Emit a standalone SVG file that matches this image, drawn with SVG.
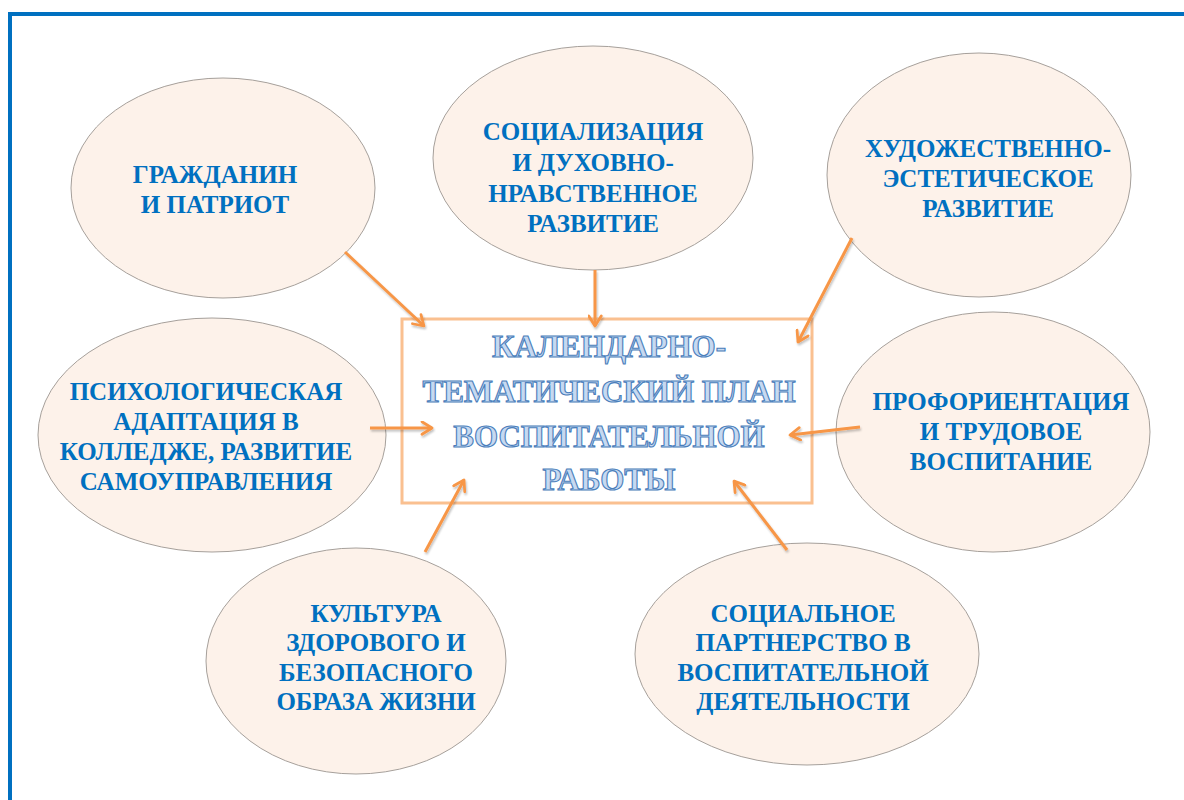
<svg xmlns="http://www.w3.org/2000/svg" width="1184" height="800" viewBox="0 0 1184 800">
<defs>
<marker id="arr" viewBox="0 0 12 12" refX="10" refY="6" markerWidth="5" markerHeight="5" orient="auto" markerUnits="strokeWidth">
<path d="M2,1 L10,6 L2,11" fill="none" stroke="#F79646" stroke-width="2.2" stroke-linecap="round" stroke-linejoin="round"/>
</marker>
<filter id="sh" x="-10%" y="-10%" width="120%" height="120%">
<feGaussianBlur in="SourceAlpha" stdDeviation="1.2"/>
<feOffset dx="1" dy="1.5" result="b"/>
<feComponentTransfer><feFuncA type="linear" slope="0.25"/></feComponentTransfer>
<feMerge><feMergeNode/><feMergeNode in="SourceGraphic"/></feMerge>
</filter>
</defs>
<style>
.ell{fill:#FDF2EA;stroke:#A6A09B;stroke-width:1}
.lbl{font-family:"Liberation Serif","Times New Roman","DejaVu Serif",serif;font-weight:bold;font-size:25px;fill:#0070C0;text-anchor:middle}
.title{font-family:"Liberation Serif","Times New Roman","DejaVu Serif",serif;font-weight:bold;font-size:31px;fill:#C6D9F1;stroke:#4A7EBB;stroke-width:1.1;text-anchor:middle}
.con{stroke:#F79646;stroke-width:3;fill:none;marker-end:url(#arr)}
</style>
<rect width="1184" height="800" fill="#FFFFFF"/>
<g id="frame">
<line x1="8" y1="14" x2="1184" y2="14" stroke="#0070C0" stroke-width="4"/>
<line x1="10" y1="12" x2="10" y2="800" stroke="#0070C0" stroke-width="4"/>
</g>
<g id="n-grazhdanin">
<ellipse class="ell" cx="223" cy="188" rx="152" ry="110"/>
<text class="lbl" x="215" y="183">ГРАЖДАНИН</text>
<text class="lbl" x="215" y="213">И ПАТРИОТ</text>
</g>
<g id="n-socializ">
<ellipse class="ell" cx="593" cy="158" rx="160" ry="112"/>
<text class="lbl" x="593" y="140">СОЦИАЛИЗАЦИЯ</text>
<text class="lbl" x="593" y="171">И ДУХОВНО-</text>
<text class="lbl" x="593" y="202">НРАВСТВЕННОЕ</text>
<text class="lbl" x="593" y="232">РАЗВИТИЕ</text>
</g>
<g id="n-hudozh">
<ellipse class="ell" cx="979" cy="175" rx="152" ry="122"/>
<text class="lbl" x="988" y="157">ХУДОЖЕСТВЕННО-</text>
<text class="lbl" x="988" y="187">ЭСТЕТИЧЕСКОЕ</text>
<text class="lbl" x="988" y="217">РАЗВИТИЕ</text>
</g>
<g id="n-psih">
<ellipse class="ell" cx="212" cy="435" rx="174" ry="117"/>
<text class="lbl" x="206" y="400">ПСИХОЛОГИЧЕСКАЯ</text>
<text class="lbl" x="206" y="430">АДАПТАЦИЯ В</text>
<text class="lbl" x="206" y="460">КОЛЛЕДЖЕ, РАЗВИТИЕ</text>
<text class="lbl" x="206" y="490">САМОУПРАВЛЕНИЯ</text>
</g>
<g id="n-proforient">
<ellipse class="ell" cx="993" cy="432" rx="157" ry="120"/>
<text class="lbl" x="1001" y="410">ПРОФОРИЕНТАЦИЯ</text>
<text class="lbl" x="1001" y="440">И ТРУДОВОЕ</text>
<text class="lbl" x="1001" y="470">ВОСПИТАНИЕ</text>
</g>
<g id="n-kultura">
<ellipse class="ell" cx="356" cy="661" rx="150" ry="113"/>
<text class="lbl" x="376" y="622">КУЛЬТУРА</text>
<text class="lbl" x="376" y="651">ЗДОРОВОГО И</text>
<text class="lbl" x="376" y="681">БЕЗОПАСНОГО</text>
<text class="lbl" x="376" y="710">ОБРАЗА ЖИЗНИ</text>
</g>
<g id="n-partner">
<ellipse class="ell" cx="807" cy="654" rx="172" ry="111"/>
<text class="lbl" x="803" y="622">СОЦИАЛЬНОЕ</text>
<text class="lbl" x="803" y="651">ПАРТНЕРСТВО В</text>
<text class="lbl" x="803" y="681">ВОСПИТАТЕЛЬНОЙ</text>
<text class="lbl" x="803" y="710">ДЕЯТЕЛЬНОСТИ</text>
</g>
<g id="n-center">
<rect x="402" y="319" width="410" height="184" fill="#FFFFFF" stroke="#FAC090" stroke-width="3"/>
<text class="title" x="609" y="357">КАЛЕНДАРНО-</text>
<text class="title" x="609" y="402">ТЕМАТИЧЕСКИЙ ПЛАН</text>
<text class="title" x="609" y="447">ВОСПИТАТЕЛЬНОЙ</text>
<text class="title" x="609" y="490">РАБОТЫ</text>
</g>
<g id="connectors" filter="url(#sh)">
<line class="con" x1="345" y1="252" x2="424" y2="326"/>
<line class="con" x1="595" y1="270" x2="595" y2="326"/>
<line class="con" x1="852" y1="238" x2="798" y2="342"/>
<line class="con" x1="370" y1="428" x2="432" y2="428"/>
<line class="con" x1="860" y1="427" x2="790" y2="435"/>
<line class="con" x1="425" y1="552" x2="464" y2="480"/>
<line class="con" x1="787" y1="550" x2="734" y2="481"/>
</g>
</svg>
